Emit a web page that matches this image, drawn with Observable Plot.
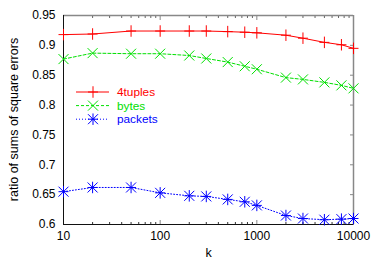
<!DOCTYPE html>
<html><head><meta charset="utf-8">
<script src="https://cdn.jsdelivr.net/npm/d3@7"></script>
<script src="https://cdn.jsdelivr.net/npm/@observablehq/plot@0.6"></script>
<style>body{margin:0;background:#fff}#chart{width:374px;height:262px}</style>
</head><body><div id="chart"></div>
<script>
const kValues = [10, 20, 50, 100, 200, 300, 500, 750, 1000, 2000, 3000, 5000, 7500, 10000];
const tuples4 = [0.918, 0.919, 0.924, 0.924, 0.924, 0.924, 0.923, 0.922, 0.921, 0.917, 0.912, 0.905, 0.901, 0.895];
const bytes = [0.877, 0.887, 0.886, 0.886, 0.883, 0.878, 0.872, 0.865, 0.860, 0.846, 0.843, 0.838, 0.833, 0.828];
const packets = [0.655, 0.662, 0.662, 0.653, 0.648, 0.647, 0.642, 0.638, 0.632, 0.615, 0.610, 0.608, 0.609, 0.610];
const seriesNames = ["4tuples", "bytes", "packets"];
const seriesColors = ["#ff0000", "#00e000", "#0000ff"];
const seriesDash = [null, "3,2", "1,2"];
const yTicks = [0.6, 0.65, 0.7, 0.75, 0.8, 0.85, 0.9, 0.95];
const yTickLabels = ["0.6", "0.65", "0.7", "0.75", "0.8", "0.85", "0.9", "0.95"];
const xTicks = [10, 100, 1000, 10000];
const xTickLabels = ["10", "100", "1000", "10000"];
const xMinor = [20,30,40,50,60,70,80,90,200,300,400,500,600,700,800,900,2000,3000,4000,5000,6000,7000,8000,9000];
const xLabel = "k";
const yLabel = "ratio of sums of square errors";

const seriesValues = [tuples4, bytes, packets];
const font = "Liberation Sans, Arial, sans-serif";

// gnuplot-like stroke symbols; half-extent = radius r given to the dot mark
const gPlus = {draw(ctx, size) { const r = Math.sqrt(size / Math.PI); ctx.moveTo(-r, 0); ctx.lineTo(r, 0); ctx.moveTo(0, -r * 1.15); ctx.lineTo(0, r * 1.15); }};
const gTimes = {draw(ctx, size) { const r = Math.sqrt(size / Math.PI); ctx.moveTo(-r, -r); ctx.lineTo(r, r); ctx.moveTo(-r, r); ctx.lineTo(r, -r); }};
const gStar = {draw(ctx, size) { gPlus.draw(ctx, size); gTimes.draw(ctx, size); }};
const seriesSymbols = [gPlus, gTimes, gStar];

const lineMarks = [];
seriesValues.forEach((vals, si) => {
  const rows = kValues.map((k, i) => ({k, v: vals[i]}));
  lineMarks.push(Plot.line(rows, {x: "k", y: "v", stroke: seriesColors[si], strokeWidth: 1, strokeDasharray: seriesDash[si]}));
  lineMarks.push(Plot.dot(rows, {x: "k", y: "v", symbol: seriesSymbols[si], r: 5, fill: "none", stroke: seriesColors[si], strokeWidth: 1}));
});

const chart = Plot.plot({
  width: 374, height: 262,
  marginLeft: 63, marginRight: 21, marginTop: 15, marginBottom: 38,
  style: {fontFamily: font, fontSize: "12px", color: "#000", background: "#fff"},
  x: {type: "log", domain: [10, 10000]},
  y: {domain: [0.6, 0.95]},
  marks: [
    Plot.ruleX([10000], {stroke: "#888", strokeWidth: 1.5}),
    Plot.ruleY([0.95], {stroke: "#888", strokeWidth: 1.5}),
    Plot.axisX({anchor: "bottom", ticks: xTicks, tickSize: 0, tickPadding: 7, tickFormat: (d) => xTickLabels[xTicks.indexOf(d)], label: null, fontSize: 12}),
    Plot.axisX({anchor: "bottom", ticks: xMinor, tickSize: -2, tickFormat: () => "", label: null, stroke: "#333"}),
    Plot.axisX({anchor: "bottom", ticks: xTicks, tickSize: -4, tickFormat: () => "", label: null, stroke: "#888"}),
    Plot.axisX({anchor: "top", ticks: xMinor, tickSize: -2, tickFormat: () => "", label: null, stroke: "#666"}),
    Plot.axisX({anchor: "top", ticks: xTicks, tickSize: -4, tickFormat: () => "", label: null, stroke: "#888"}),
    Plot.axisY({anchor: "left", ticks: yTicks, tickSize: 0, tickPadding: 8, tickFormat: (d) => yTickLabels[yTicks.findIndex(t => Math.abs(t - d) < 1e-9)], label: null, fontSize: 12}),
    Plot.axisY({anchor: "right", ticks: yTicks, tickSize: -4, tickFormat: () => "", label: null, stroke: "#888"}),
    Plot.ruleX([10], {stroke: "#111", strokeWidth: 1}),
    Plot.ruleY([0.6], {stroke: "#111", strokeWidth: 1}),
    ...lineMarks,
    Plot.text([xLabel], {frameAnchor: "bottom", dy: 32, fontSize: 12.5, fill: "#000"})
  ]
});
document.getElementById("chart").appendChild(chart);

const svg = d3.select(chart);
// y axis title, vertically centred on the frame
svg.append("text")
  .attr("transform", `translate(14,${(15 + 224) / 2}) rotate(-90)`)
  .attr("text-anchor", "middle").attr("dy", "0.35em")
  .attr("font-family", font).attr("font-size", 12.5).attr("fill", "#000")
  .text(yLabel);

// Legend inside the plot area (upper left)
const lg = svg.append("g").attr("font-family", font).attr("font-size", 11.8).attr("text-anchor", "start");
const symPaths = seriesSymbols.map(s => d3.symbol(s, Math.PI * 25)());
seriesNames.forEach((name, i) => {
  const y = 92 + i * 13.6;
  lg.append("line").attr("x1", 76).attr("x2", 109).attr("y1", y).attr("y2", y)
    .attr("stroke", seriesColors[i]).attr("stroke-width", 1).attr("stroke-dasharray", seriesDash[i]);
  lg.append("path").attr("d", symPaths[i]).attr("transform", `translate(93,${y})`).attr("fill", "none").attr("stroke", seriesColors[i]);
  lg.append("text").attr("x", 117).attr("y", y).attr("dy", "0.35em").attr("fill", seriesColors[i]).text(name);
});
</script>
</body></html>
